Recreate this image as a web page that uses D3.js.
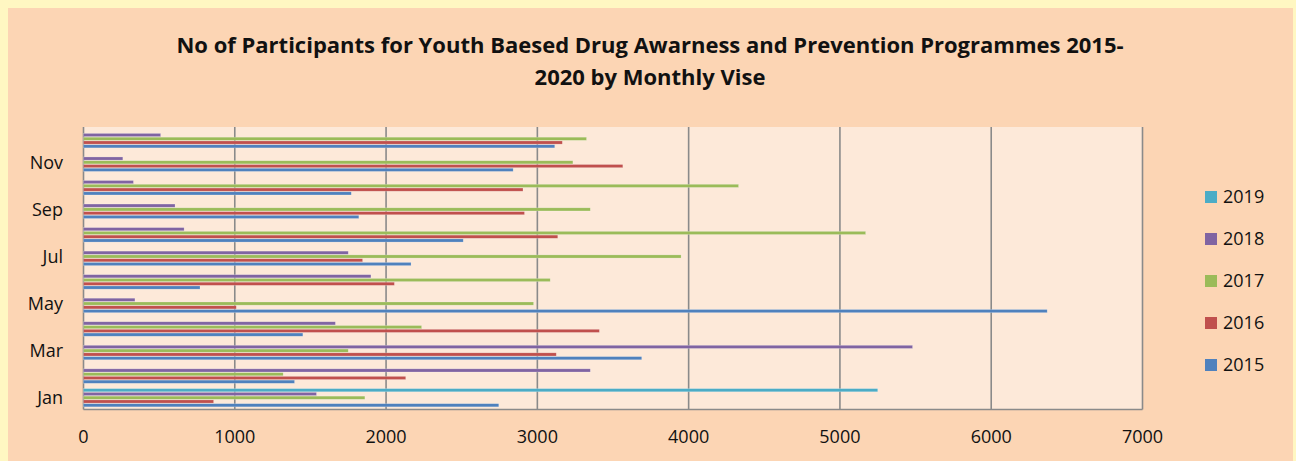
<!DOCTYPE html>
<html>
  <head>
    <meta charset="UTF-8">
    <title>Youth Drug Awareness Programmes</title>
  </head>
  <style type="text/css">
    body {
      margin: 0;
      background: #fff7c2;
    }

    text {
      font-family: "Open Sans", sans-serif;
      fill: #111;
    }

    .title {
      font-weight: bold;
      font-size: 22px;
    }

    .tick-label, .legend text {
      font-size: 18px;
    }

    .grid line {
      stroke: #8a8a8a;
      stroke-width: 1.6;
    }

  </style>
  <body>
    <svg width="1296" height="461"></svg>
  </body>
  <script src="https://d3js.org/d3.v7.min.js"></script>
  <script type="text/javascript">
    const months = ['Jan', 'Feb', 'Mar', 'Apr', 'May', 'Jun', 'Jul', 'Aug', 'Sep', 'Oct', 'Nov', 'Dec'];
    const years = ['2015', '2016', '2017', '2018', '2019'];
    const colors = ['#4f81bd', '#c0504d', '#9bbb59', '#8064a2', '#4bacc6'];

    const v2015 = [2745, 1395, 3690, 1450, 6370, 770, 2165, 2510, 1820, 1770, 2840, 3115];
    const v2016 = [860, 2130, 3125, 3410, 1010, 2055, 1845, 3135, 2915, 2905, 3565, 3165];
    const v2017 = [1860, 1320, 1750, 2235, 2975, 3085, 3950, 5170, 3350, 4330, 3235, 3325];
    const v2018 = [1540, 3350, 5480, 1665, 340, 1900, 1750, 665, 605, 330, 260, 510];
    const v2019 = [5250, 0, 0, 0, 0, 0, 0, 0, 0, 0, 0, 0];
    const series = [v2015, v2016, v2017, v2018, v2019];

    const xTicks = [0, 1000, 2000, 3000, 4000, 5000, 6000, 7000];
    const shownMonths = ['Jan', 'Mar', 'May', 'Jul', 'Sep', 'Nov'];

    let svg = d3.select('svg');

    // chart panel
    svg.append('rect')
        .attr('x', 8).attr('y', 8)
        .attr('width', 1285).attr('height', 460)
        .attr('fill', '#fcd5b4');

    let plot = {left: 83.5, right: 1142.5, top: 127, bottom: 409.5};

    let x = d3.scaleLinear()
        .domain([0, 7000])
        .range([plot.left, plot.right]);

    let y0 = d3.scaleBand()
        .domain(months)
        .range([plot.bottom, plot.top])
        .paddingInner(0.2)
        .paddingOuter(0.1);

    // bars inside a group stack from the bottom: 2015 lowest
    let y1 = d3.scaleBand()
        .domain(years.slice().reverse())
        .range([0, y0.bandwidth()]);

    svg.append('rect')
        .attr('x', plot.left).attr('y', plot.top)
        .attr('width', plot.right - plot.left)
        .attr('height', plot.bottom - plot.top)
        .attr('fill', '#fde9d9');

    // vertical gridlines + frame
    let grid = svg.append('g').attr('class', 'grid');
    grid.selectAll('line.v')
      .data(xTicks)
      .enter().append('line')
        .attr('class', 'v')
        .attr('x1', d => x(d)).attr('x2', d => x(d))
        .attr('y1', plot.top).attr('y2', plot.bottom);
    grid.append('line')
        .attr('x1', plot.left).attr('x2', plot.right)
        .attr('y1', plot.bottom).attr('y2', plot.bottom);

    // bars
    let groups = svg.append('g').selectAll('g')
      .data(months)
      .enter().append('g')
        .attr('transform', d => 'translate(0,' + y0(d) + ')');

    groups.selectAll('rect')
      .data((m, i) => years.map((yr, k) => ({year: yr, value: series[k][i], color: colors[k]})))
      .enter().append('rect')
        .attr('x', x(0))
        .attr('y', d => y1(d.year) + 0.3)
        .attr('height', y1.bandwidth() - 0.6)
        .attr('width', d => x(d.value) - x(0))
        .attr('fill', d => d.color)
        .attr('stroke', 'rgba(255,255,255,0.35)')
        .attr('stroke-width', 0.6);

    // month labels (every other)
    svg.append('g').selectAll('text')
      .data(shownMonths)
      .enter().append('text')
        .attr('class', 'tick-label')
        .attr('x', 63)
        .attr('y', d => y0(d) + y0.bandwidth() / 2)
        .attr('dy', '0.35em')
        .attr('text-anchor', 'end')
        .text(d => d);

    // value axis labels
    svg.append('g').selectAll('text')
      .data(xTicks)
      .enter().append('text')
        .attr('class', 'tick-label')
        .attr('x', d => x(d))
        .attr('y', 443)
        .attr('text-anchor', 'middle')
        .text(d => d);

    // title
    let title = svg.append('text')
        .attr('class', 'title')
        .attr('text-anchor', 'middle');
    title.append('tspan')
        .attr('x', 650).attr('y', 53)
        .text('No of Participants for Youth Baesed Drug Awarness and Prevention Programmes 2015-');
    title.append('tspan')
        .attr('x', 650).attr('y', 85)
        .text('2020 by Monthly Vise');

    // legend, 2019 on top
    let legend = svg.append('g').attr('class', 'legend')
      .selectAll('g')
      .data(years.slice().reverse())
      .enter().append('g')
        .attr('transform', (d, i) => 'translate(1205,' + (197 + i * 42) + ')');

    legend.append('rect')
        .attr('x', 0).attr('y', -6)
        .attr('width', 12).attr('height', 12)
        .attr('fill', d => colors[years.indexOf(d)]);

    legend.append('text')
        .attr('x', 18)
        .attr('dy', '0.35em')
        .text(d => d);

  </script>
</html>
